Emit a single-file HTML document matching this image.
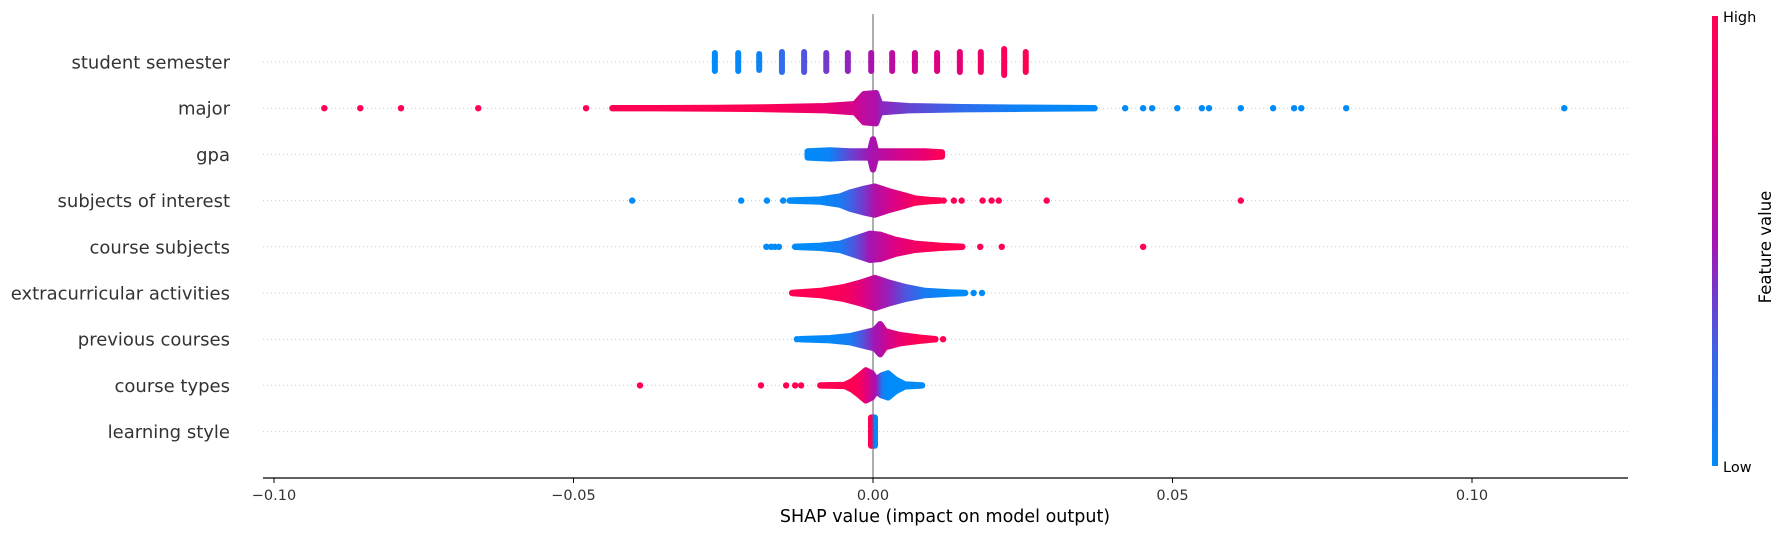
<!DOCTYPE html>
<html><head><meta charset="utf-8"><style>
html,body{margin:0;padding:0;background:#fff;}
svg{display:block;font-family:"DejaVu Sans","Liberation Sans",sans-serif;}
</style></head><body>
<svg id="chart" width="1785" height="536" viewBox="0 0 1785 536" xmlns="http://www.w3.org/2000/svg">
<defs id="defs"></defs>
<g id="grid"></g>
<line x1="873" y1="14" x2="873" y2="478" stroke="#999" stroke-width="1.6"/>
<g id="marks"></g>
<g id="labels"></g>
<line x1="263" y1="478" x2="1628" y2="478" stroke="#000" stroke-width="1.2"/>
<g id="xticks"></g>
<text x="945" y="522" text-anchor="middle" font-size="17.5" fill="#000">SHAP value (impact on model output)</text>
<rect x="1712" y="16" width="6" height="450" fill="url(#cbar)"/>
<text x="1723" y="22" font-size="14.5" fill="#000">High</text>
<text x="1723" y="472" font-size="14.5" fill="#000">Low</text>
<text x="0" y="0" font-size="16.5" fill="#000" text-anchor="middle" transform="translate(1771,247) rotate(-90)">Feature value</text>
</svg>
<script>
const features = ["student semester","major","gpa","subjects of interest","course subjects","extracurricular activities","previous courses","course types","learning style"];
const xTicks = [-0.10,-0.05,0.00,0.05,0.10];
const xTickLabels = ["\u22120.10","\u22120.05","0.00","0.05","0.10"];

const semVals = [-0.0264,-0.0225,-0.0190,-0.0152,-0.0115,-0.0078,-0.0042,-0.0003,0.0032,0.0070,0.0107,0.0145,0.0180,0.0219,0.0255];
const semHalf = [12,12,11,13,13,12,12,12,12,12,12,13,13,16,13];
const semColor = [0,0.02,0.05,0.2,0.3,0.38,0.45,0.52,0.6,0.68,0.75,0.82,0.88,0.95,1];

const majorV = [-0.0435,-0.036,-0.026,-0.018,-0.008,-0.003,-0.0015,0.0005,0.0012,0.006,0.015,0.025,0.037];
const majorH = [0,0,0.3,0.8,2,4,14,15,4,2,1,0.5,0];
const majorC = [1,1,1,0.98,0.85,0.7,0.6,0.55,0.45,0.35,0.2,0.05,0];
const majorOutV = [-0.0916,-0.0856,-0.0788,-0.0659,-0.0479,0.0421,0.0451,0.0466,0.0508,0.0549,0.0561,0.0614,0.0668,0.0703,0.0715,0.0790,0.1154];
const majorOutC = [1,1,1,1,1,0,0,0,0,0,0,0,0,0,0,0,0];

const gpaV = [-0.0109,-0.0072,-0.0038,-0.0005,0,0.0005,0.0045,0.0087,0.0115];
const gpaH = [3,4,3,3,15,3,3,3,2];
const gpaC = [0,0.05,0.35,0.5,0.52,0.55,0.7,0.85,1];
const gpaOutV = [];
const gpaOutC = [];

const soiV = [-0.0139,-0.0088,-0.0055,-0.0038,-0.0013,0.0003,0.0028,0.0053,0.007,0.0095,0.0112];
const soiH = [0,1,4,8,12,14,9,5,2,0.5,0];
const soiC = [0,0.02,0.1,0.25,0.4,0.55,0.7,0.85,0.95,1,1];
const soiOutV = [-0.0402,-0.0220,-0.0177,-0.0150,0.0118,0.0135,0.0148,0.0183,0.0198,0.0210,0.0290,0.0614];
const soiOutC = [0,0,0,0,1,1,1,1,1,1,1,1];

const csV = [-0.013,-0.0088,-0.0055,-0.003,-0.0005,0.0012,0.0037,0.007,0.0112,0.0149];
const csH = [0,1,3,8,13,12,7,3,1,0];
const csC = [0,0.02,0.1,0.3,0.5,0.6,0.75,0.9,1,1];
const csOutV = [-0.0178,-0.0170,-0.0164,-0.0157,0.0179,0.0215,0.0451];
const csOutC = [0,0,0,0,1,1,1];

const ecV = [-0.0135,-0.0088,-0.0047,-0.0022,0.0003,0.0028,0.0053,0.0087,0.0129,0.0154];
const ecH = [0,2,6,10,15,10,6,2,0.5,0];
const ecC = [1,1,0.95,0.8,0.6,0.45,0.3,0.1,0,0];
const ecOutV = [0.0168,0.0182];
const ecOutC = [0,0];

const pcV = [-0.0122,-0.0072,-0.0038,-0.0018,0.0003,0.0012,0.002,0.0045,0.0078,0.0104];
const pcH = [0,1,3,6,9,15,8,4,1.5,0];
const pcC = [0,0.02,0.1,0.3,0.5,0.55,0.65,0.85,1,1];
const pcOutV = [-0.0127,-0.0112,0.0104,0.0117];
const pcOutC = [0,0,1,1];

const ctV = [-0.0088,-0.0047,-0.0035,-0.0022,-0.0012,-0.0002,0.0005,0.0015,0.0025,0.0037,0.0053,0.0082];
const ctH = [0,0.5,4,10,15,12,6,10,12,6,1,0];
const ctC = [1,1,1,0.95,0.8,0.6,0.5,0.1,0,0,0,0];
const ctOutV = [-0.0389,-0.0187,-0.0145,-0.0130,-0.0120];
const ctOutC = [1,1,1,1,1];

const lsV = [-0.0003,0.0003];
const lsH = [14,14];
const lsC = [1,0];
const lsOutV = [];
const lsOutC = [];

const X0 = 873, XS = 5990;
function xScale(v){ return X0 + v*XS; }
function yRow(i){ return 62 + i*46.2; }
const stops = [[0,[0,139,250]],[0.25,[60,100,232]],[0.5,[165,20,178]],[0.75,[222,0,130]],[1,[255,0,82]]];
function colorOf(c){
  for(let i=1;i<stops.length;i++){
    if(c<=stops[i][0]){
      const a=stops[i-1],b=stops[i],t=(c-a[0])/(b[0]-a[0]);
      const r=a[1].map((v,k)=>Math.round(v+(b[1][k]-v)*t));
      return `rgb(${r[0]},${r[1]},${r[2]})`;
    }
  }
  return 'rgb(255,0,82)';
}
const NS="http://www.w3.org/2000/svg";
function mk(tag,attrs,parent){const e=document.createElementNS(NS,tag);for(const k in attrs)e.setAttribute(k,attrs[k]);parent.appendChild(e);return e;}
const defs=document.getElementById('defs');
const grid=document.getElementById('grid');
const marks=document.getElementById('marks');
const labels=document.getElementById('labels');
const xt=document.getElementById('xticks');

const cg=mk('linearGradient',{id:'cbar',x1:0,y1:1,x2:0,y2:0},defs);
stops.forEach(s=>{mk('stop',{offset:s[0],'stop-color':colorOf(s[0])},cg);});

features.forEach((f,i)=>{
  const y=yRow(i);
  const g=mk('line',{x1:263,x2:1628,y1:y,y2:y,stroke:'#ccc','stroke-width':1,'stroke-dasharray':'1,3'},grid);
  
  
  const t=mk('text',{x:230,y:y+6.5,'text-anchor':'end','font-size':18,fill:'#333'},labels);
  t.textContent=f;
  
  
});

xTicks.forEach((v,i)=>{
  const x=xScale(v);
  const l=mk('line',{x1:x,x2:x,y1:478,y2:483,stroke:'#000','stroke-width':1},xt);
  
  
  const t=mk('text',{x:x,y:500,'text-anchor':'middle','font-size':14.5,fill:'#333'},xt);
  t.textContent=xTickLabels[i];
  
  
});

semVals.forEach((v,i)=>{
  const y=yRow(0), h=semHalf[i];
  const r=mk('rect',{x:xScale(v)-3,y:y-h,width:6,height:2*h,rx:3,fill:colorOf(semColor[i])},marks);
  
  
});

const rows=[
 [1,majorV,majorH,majorC,majorOutV,majorOutC,'major'],
 [2,gpaV,gpaH,gpaC,gpaOutV,gpaOutC,'gpa'],
 [3,soiV,soiH,soiC,soiOutV,soiOutC,'subjects-of-interest'],
 [4,csV,csH,csC,csOutV,csOutC,'course-subjects'],
 [5,ecV,ecH,ecC,ecOutV,ecOutC,'extracurricular'],
 [6,pcV,pcH,pcC,pcOutV,pcOutC,'previous-courses'],
 [7,ctV,ctH,ctC,ctOutV,ctOutC,'course-types'],
 [8,lsV,lsH,lsC,lsOutV,lsOutC,'learning-style']
];
rows.forEach(([idx,V,H,C,OV,OC,name])=>{
  const y=yRow(idx);
  const x1=xScale(V[0]), x2=xScale(V[V.length-1]);
  const gid='g'+idx;
  const lg=mk('linearGradient',{id:gid,gradientUnits:'userSpaceOnUse',x1:x1,y1:0,x2:x2,y2:0},defs);
  V.forEach((v,k)=>{mk('stop',{offset:(xScale(v)-x1)/(x2-x1||1),'stop-color':colorOf(C[k])},lg);});
  let d='';
  V.forEach((v,k)=>{d+=(k?'L':'M')+xScale(v).toFixed(1)+','+(y-H[k]).toFixed(1);});
  for(let k=V.length-1;k>=0;k--){d+='L'+xScale(V[k]).toFixed(1)+','+(y+H[k]).toFixed(1);}
  d+='Z';
  const p=mk('path',{d:d,fill:`url(#${gid})`,stroke:`url(#${gid})`,'stroke-width':6.4,'stroke-linejoin':'round'},marks);
  
  
  OV.forEach((v,k)=>{
    const c=mk('circle',{cx:xScale(v),cy:y,r:3.2,fill:colorOf(OC[k])},marks);
    
    
  });
});
</script>
</body></html>
